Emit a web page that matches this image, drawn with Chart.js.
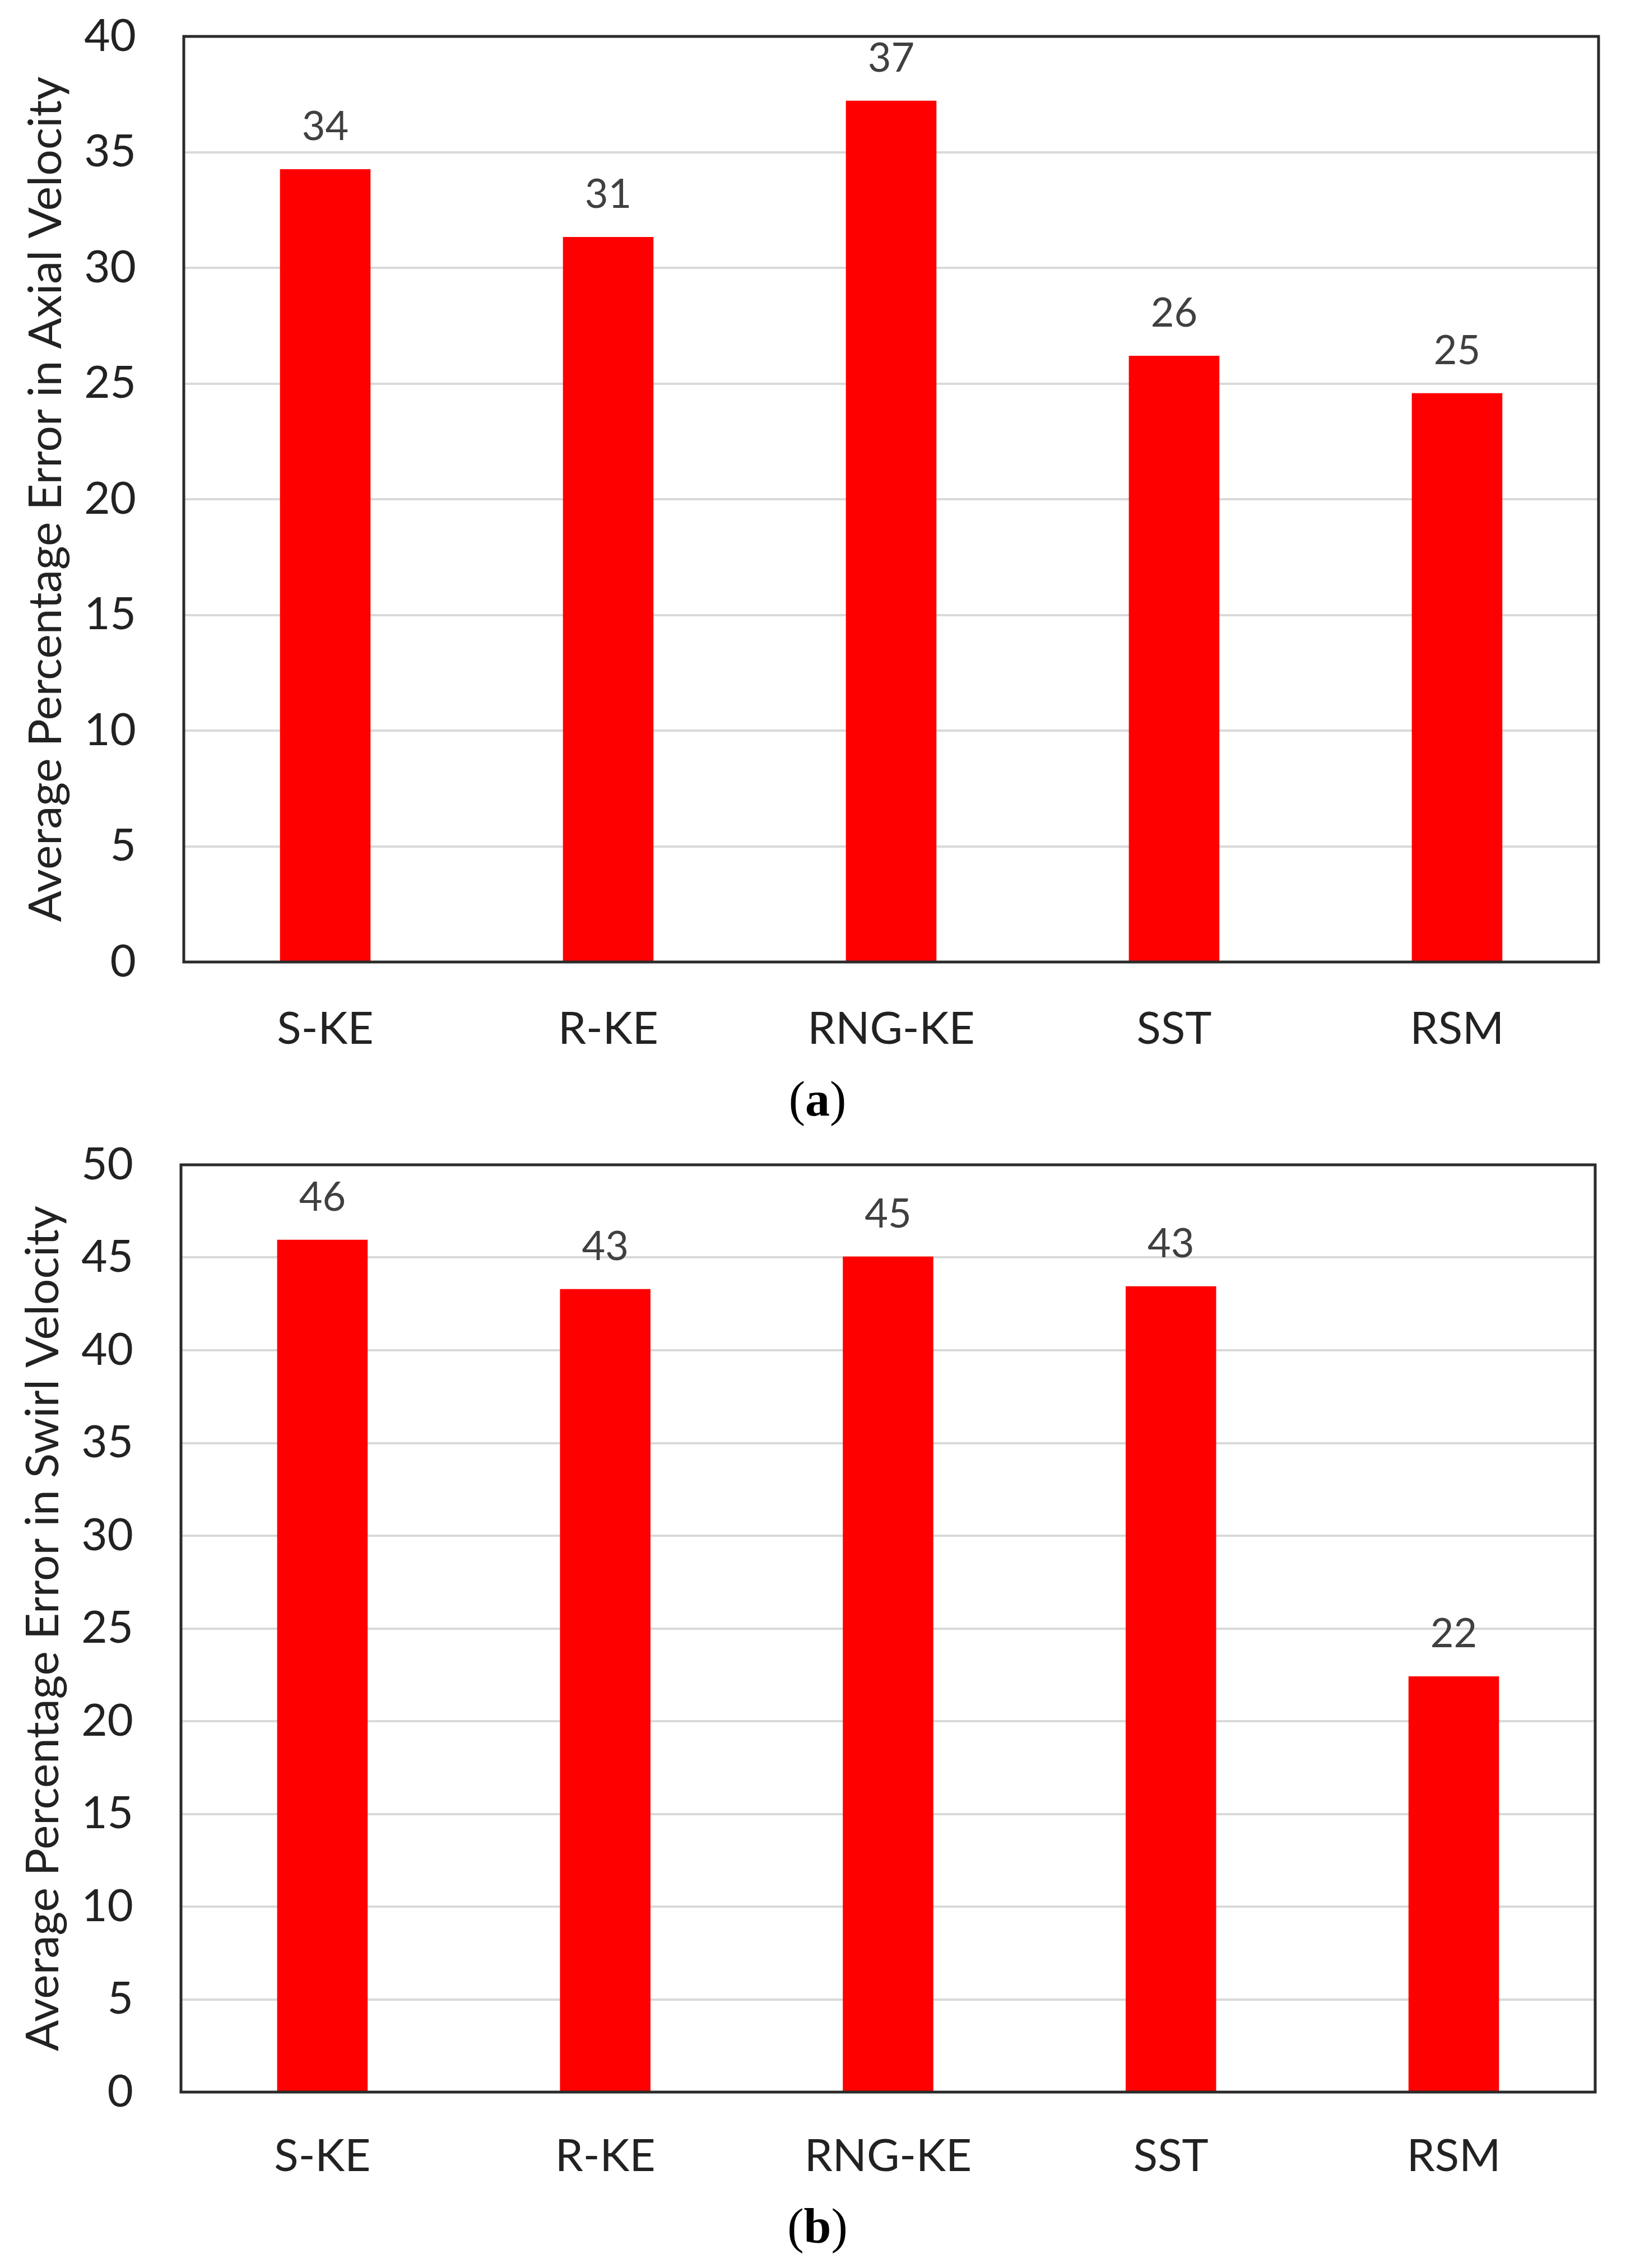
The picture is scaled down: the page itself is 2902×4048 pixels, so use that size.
<!DOCTYPE html>
<html>
<head>
<meta charset="utf-8">
<script src="https://cdn.jsdelivr.net/npm/chart.js@4.4.1/dist/chart.umd.min.js"></script>
<style>
  body { margin: 0; background: #fff; }
  #page { position: relative; width: 2902px; height: 4048px; }
  canvas { position: absolute; left: 0; }
  .caption {
    position: absolute; left: 8px; width: 2902px; height: 100px; line-height: 100px;
    text-align: center; font-family: 'Liberation Serif', 'DejaVu Serif', serif; font-size: 88px; color: #000;
  }
</style>
</head>
<body>
<div id="page">
  <canvas id="axialChart" width="2902" height="1920" style="top:0"></canvas>
  <div class="caption" style="top:1912px">(<b>a</b>)</div>
  <canvas id="swirlChart" width="2902" height="1920" style="top:2000px"></canvas>
  <div class="caption" style="top:3924px">(<b>b</b>)</div>
</div>
<script>
// turbulence models on the x axis
const models = ['S-KE', 'R-KE', 'RNG-KE', 'SST', 'RSM'];

// average percentage error
const axialError = [34.26, 31.33, 37.22, 26.2, 24.58];
const swirlError = [45.96, 43.3, 45.05, 43.45, 22.42];

const axialMax = 40;
const swirlMax = 50;
const tickStep = 5;

const FONT = 'Lato';

// dark box round the plot area, like the Excel chart
const plotFrame = {
  id: 'plotFrame',
  afterDraw(chart) {
    const { ctx, chartArea: a } = chart;
    ctx.save();
    ctx.strokeStyle = '#2b2b2b';
    ctx.lineWidth = 5;
    ctx.strokeRect(a.left, a.top, a.right - a.left, a.bottom - a.top);
    ctx.restore();
  }
};

// rounded value above each bar
const valueLabels = {
  id: 'valueLabels',
  afterDatasetsDraw(chart) {
    const ctx = chart.ctx;
    const meta = chart.getDatasetMeta(0);
    const values = chart.data.datasets[0].data;
    ctx.save();
    ctx.font = '72px ' + FONT;
    ctx.fillStyle = '#404040';
    ctx.textAlign = 'center';
    ctx.textBaseline = 'alphabetic';
    meta.data.forEach((bar, i) => {
      ctx.fillText(String(Math.round(values[i])), bar.x, bar.y - 52);
    });
    ctx.restore();
  }
};

function makeChart(id, values, yMax, title, box) {
  const canvas = document.getElementById(id);
  return new Chart(canvas, {
    type: 'bar',
    data: {
      labels: models,
      datasets: [{
        data: values,
        backgroundColor: '#ff0000',
        borderWidth: 0,
        barPercentage: 1,
        categoryPercentage: 0.32
      }]
    },
    options: {
      responsive: false,
      animation: false,
      devicePixelRatio: 1,
      layout: { padding: { top: box.top, right: box.right, bottom: 0, left: 0 } },
      plugins: { legend: { display: false }, tooltip: { enabled: false } },
      scales: {
        x: {
          grid: { display: false, drawTicks: false },
          border: { display: false },
          ticks: { padding: box.xPad, color: '#222', font: { family: FONT, size: 80 } },
          afterFit: (axis) => {
            axis.height = box.xHeight;
            axis.paddingLeft = 0;
            axis.paddingRight = 0;
          }
        },
        y: {
          min: 0,
          max: yMax,
          grid: { color: '#d9d9d9', lineWidth: 4, drawTicks: false, tickLength: 0 },
          border: { display: false },
          ticks: { stepSize: tickStep, padding: 85, color: '#222', font: { family: FONT, size: 80 } },
          title: {
            display: true,
            text: title,
            color: '#222',
            font: { family: FONT, size: 82 },
            padding: { top: box.titlePad, bottom: 0 }
          },
          afterFit: (axis) => {
            // pin the plot area; tick padding must not push the top down
            axis.width = box.left;
            axis.paddingTop = 0;
            axis.paddingBottom = 0;
          }
        }
      }
    },
    plugins: [valueLabels, plotFrame]
  });
}

makeChart('axialChart', axialError, axialMax,
  'Average Percentage Error in Axial Velocity',
  { top: 65, right: 49, left: 328, xHeight: 203, xPad: 72, titlePad: 33 });

makeChart('swirlChart', swirlError, swirlMax,
  'Average Percentage Error in Swirl Velocity',
  { top: 79, right: 55, left: 323, xHeight: 186, xPad: 67, titlePad: 28 });
</script>
</body>
</html>
